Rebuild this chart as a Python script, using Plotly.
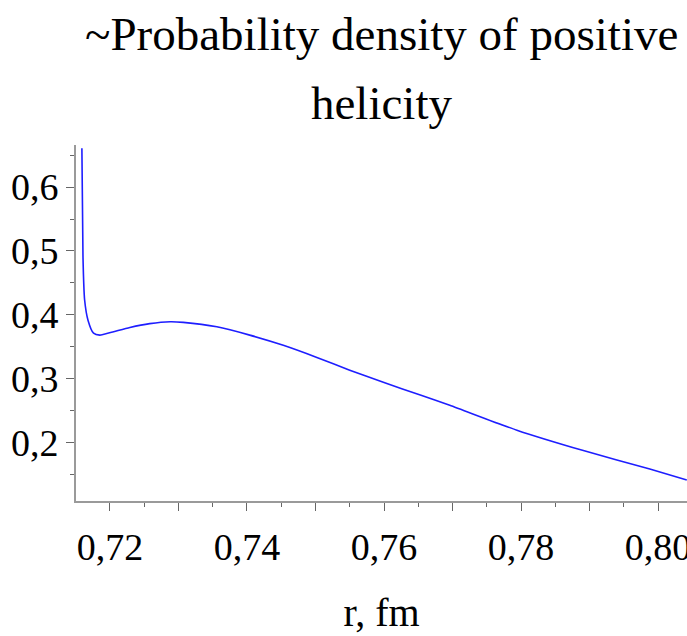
import plotly.graph_objects as go

# data
r_fm = [0.7159, 0.71606, 0.7163, 0.7168, 0.7176, 0.7185, 0.7204, 0.7229, 0.7258,
        0.7288, 0.7307, 0.7356, 0.7404, 0.7453, 0.7502, 0.7550, 0.7599, 0.7653,
        0.7696, 0.7794, 0.7891, 0.7988, 0.8042]
density = [0.661, 0.490, 0.423, 0.391, 0.371, 0.368, 0.373, 0.380, 0.386,
           0.389, 0.388, 0.381, 0.368, 0.352, 0.333, 0.313, 0.294, 0.274,
           0.258, 0.219, 0.187, 0.158, 0.141]

x_tick_vals = [0.72, 0.73, 0.74, 0.75, 0.76, 0.77, 0.78, 0.79, 0.80]
x_tick_text = ["0,72", "", "0,74", "", "0,76", "", "0,78", "", "0,80"]
y_tick_vals = [0.2, 0.3, 0.4, 0.5, 0.6]
y_tick_text = ["0,2", "0,3", "0,4", "0,5", "0,6"]

title_lines = ["~Probability density of positive", "helicity"]
x_title = "r, fm"

FONT = "Liberation Serif, Times New Roman, serif"
AXIS_COLOR = "#9a9a9a"

fig = go.Figure()
fig.add_trace(go.Scatter(
    x=r_fm, y=density, mode="lines",
    line=dict(color="rgb(30,30,255)", width=1.6, shape="spline", smoothing=0.6),
    showlegend=False, hoverinfo="skip",
))

fig.add_annotation(text=title_lines[0], xref="paper", yref="paper",
                   x=0.5, y=1.0, xanchor="center", yanchor="bottom", yshift=83,
                   showarrow=False, font=dict(family=FONT, size=47, color="black"))
fig.add_annotation(text=title_lines[1], xref="paper", yref="paper",
                   x=0.5, y=1.0, xanchor="center", yanchor="bottom", yshift=14,
                   showarrow=False, font=dict(family=FONT, size=47, color="black"))

fig.update_layout(
    width=687, height=636,
    margin=dict(l=76, r=0, t=145, b=135, pad=0),
    paper_bgcolor="white", plot_bgcolor="white",
    font=dict(family=FONT, color="black"),
    xaxis=dict(
        range=[0.71504, 0.80423], showgrid=False, zeroline=False, automargin=False,
        showline=True, linecolor=AXIS_COLOR, linewidth=2,
        tickmode="array", tickvals=x_tick_vals, ticktext=x_tick_text,
        ticks="outside", ticklen=8, tickwidth=1, tickcolor="#666",
        tickfont=dict(family=FONT, size=38, color="black"),
        ticklabeloverflow="allow", ticklabelstandoff=3,
        minor=dict(dtick=0.005, tick0=0.715, ticks="outside", ticklen=4,
                   tickwidth=1, tickcolor="#666", showgrid=False),
        title=dict(text=x_title, font=dict(family=FONT, size=40, color="black"),
                   standoff=31),
    ),
    yaxis=dict(
        range=[0.108, 0.666], showgrid=False, zeroline=False, automargin=False,
        showline=True, linecolor=AXIS_COLOR, linewidth=2,
        tickmode="array", tickvals=y_tick_vals, ticktext=y_tick_text,
        ticks="outside", ticklen=8, tickwidth=1, tickcolor="#666",
        tickfont=dict(family=FONT, size=38, color="black"),
        ticklabeloverflow="allow",
        minor=dict(dtick=0.05, tick0=0.15, ticks="outside", ticklen=4,
                   tickwidth=1, tickcolor="#666", showgrid=False),
    ),
)

fig.write_html("out.html", config={"displayModeBar": False},
               post_script="document.body.style.margin='0';")
